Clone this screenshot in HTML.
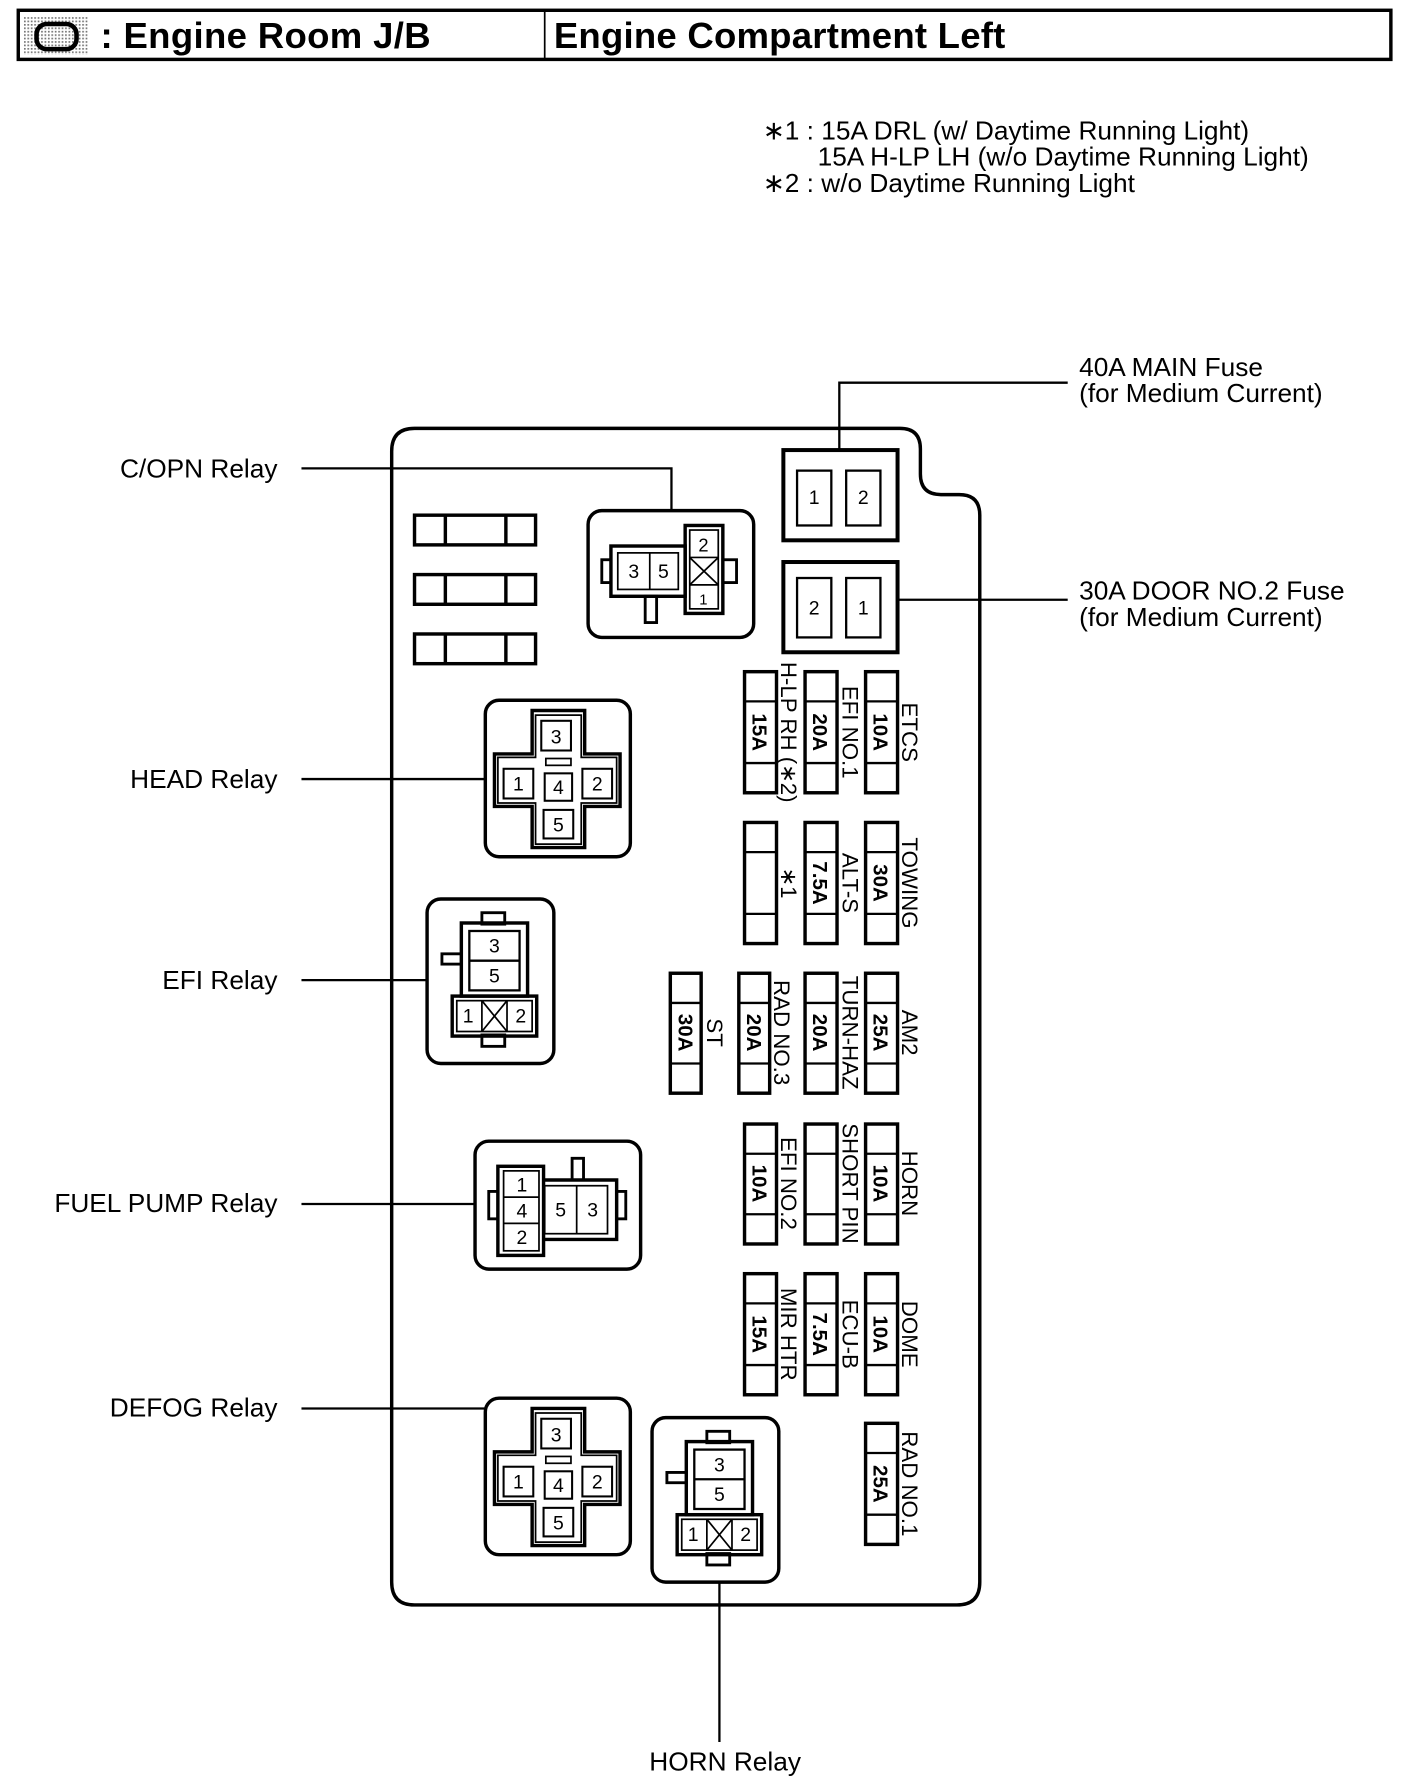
<!DOCTYPE html>
<html><head><meta charset="utf-8"><style>
html,body{margin:0;padding:0;background:#fff}
svg{display:block}
text{font-family:"Liberation Sans",sans-serif;fill:#000}
</style></head><body>
<svg width="1408" height="1790" viewBox="0 0 1233 1567" preserveAspectRatio="none" xmlns="http://www.w3.org/2000/svg">
<defs>
<pattern id="dots" width="3" height="3" patternUnits="userSpaceOnUse"><rect width="3" height="3" fill="#fff"/><rect width="1.5" height="1.5" fill="#777"/></pattern>
<g id="headrelay">
 <rect x="425" y="613" width="127" height="137" rx="12" fill="none" stroke="#000" stroke-width="3"/>
 <path d="M466 622 H512 V660 H543 V706 H512 V742 H466 V706 H433 V660 H466 Z" fill="none" stroke="#000" stroke-width="3"/>
 <path d="M469 626 H509 V663 H540 V703 H509 V739 H469 V703 H436 V663 H469 Z" fill="none" stroke="#000" stroke-width="1.5"/>
 <rect x="474" y="631" width="26" height="26" fill="none" stroke="#000" stroke-width="1.8"/>
 <rect x="441" y="673" width="26" height="26" fill="none" stroke="#000" stroke-width="1.8"/>
 <rect x="510" y="673" width="26" height="26" fill="none" stroke="#000" stroke-width="1.8"/>
 <rect x="477" y="677" width="24" height="24" fill="none" stroke="#000" stroke-width="1.8"/>
 <rect x="476" y="709" width="26" height="25" fill="none" stroke="#000" stroke-width="1.8"/>
 <rect x="478" y="664" width="22" height="6" fill="none" stroke="#000" stroke-width="1.5"/>
 <text x="487" y="651" font-size="17" text-anchor="middle">3</text>
 <text x="454" y="692" font-size="17" text-anchor="middle">1</text>
 <text x="489" y="695" font-size="17" text-anchor="middle">4</text>
 <text x="523" y="692" font-size="17" text-anchor="middle">2</text>
 <text x="489" y="728" font-size="17" text-anchor="middle">5</text>
</g>
<g id="efirelay">
 <rect x="374" y="787" width="111" height="144" rx="12" fill="none" stroke="#000" stroke-width="3"/>
 <rect x="422" y="799" width="20" height="10" fill="none" stroke="#000" stroke-width="2.5"/>
 <rect x="387" y="835" width="17" height="9" fill="none" stroke="#000" stroke-width="2.5"/>
 <rect x="422" y="906" width="20" height="10" fill="none" stroke="#000" stroke-width="2.5"/>
 <rect x="404" y="808" width="58" height="64" fill="none" stroke="#000" stroke-width="3"/>
 <rect x="411" y="815" width="44" height="52" fill="none" stroke="#000" stroke-width="2"/>
 <line x1="411" y1="841" x2="455" y2="841" stroke="#000" stroke-width="2"/>
 <rect x="396" y="872" width="74" height="35" fill="none" stroke="#000" stroke-width="3"/>
 <rect x="400" y="876" width="66" height="27" fill="none" stroke="#000" stroke-width="1.5"/>
 <line x1="422" y1="876" x2="422" y2="903" stroke="#000" stroke-width="1.5"/>
 <line x1="444" y1="876" x2="444" y2="903" stroke="#000" stroke-width="1.5"/>
 <line x1="422" y1="876" x2="444" y2="903" stroke="#000" stroke-width="1.5"/>
 <line x1="444" y1="876" x2="422" y2="903" stroke="#000" stroke-width="1.5"/>
 <text x="433" y="834" font-size="17" text-anchor="middle">3</text>
 <text x="433" y="860" font-size="17" text-anchor="middle">5</text>
 <text x="410" y="895" font-size="17" text-anchor="middle">1</text>
 <text x="456" y="895" font-size="17" text-anchor="middle">2</text>
</g>
</defs>

<rect x="16" y="9" width="1202" height="43" fill="none" stroke="#000" stroke-width="3"/>
<line x1="477" y1="9" x2="477" y2="52" stroke="#000" stroke-width="1.5"/>
<rect x="21" y="14" width="56" height="34" fill="url(#dots)"/>
<rect x="32" y="21" width="35" height="22" rx="9" fill="none" stroke="#000" stroke-width="4"/>
<text x="88" y="42" font-size="32" font-weight="bold" letter-spacing="0.3">: Engine Room J/B</text>
<text x="485" y="42" font-size="32" font-weight="bold" letter-spacing="0.2">Engine Compartment Left</text>

<text x="668" y="122" font-size="23">∗1 : 15A DRL (w/ Daytime Running Light)</text>
<text x="716" y="145" font-size="23">15A H-LP LH (w/o Daytime Running Light)</text>
<text x="668" y="168" font-size="23">∗2 : w/o Daytime Running Light</text>

<path d="M363 375 H788 Q806 375 806 393 V415 Q806 433 824 433 H840 Q858 433 858 451 V1385 Q858 1405 838 1405 H363 Q343 1405 343 1385 V395 Q343 375 363 375 Z" fill="none" stroke="#000" stroke-width="3"/>

<g fill="none" stroke="#000" stroke-width="3">
<rect x="363" y="451" width="106" height="26"/><line x1="390" y1="451" x2="390" y2="477"/><line x1="443" y1="451" x2="443" y2="477"/>
<rect x="363" y="503" width="106" height="26"/><line x1="390" y1="503" x2="390" y2="529"/><line x1="443" y1="503" x2="443" y2="529"/>
<rect x="363" y="555" width="106" height="26"/><line x1="390" y1="555" x2="390" y2="581"/><line x1="443" y1="555" x2="443" y2="581"/>
</g>

<g fill="none" stroke="#000">
<rect x="515" y="447" width="145" height="111" rx="12" stroke-width="3"/>
<rect x="535" y="478" width="65" height="44" stroke-width="3"/>
<rect x="541" y="484" width="53" height="32" stroke-width="1.5"/>
<line x1="569" y1="484" x2="569" y2="516" stroke-width="1.5"/>
<rect x="527" y="490" width="8" height="20" stroke-width="2.5"/>
<rect x="600" y="460" width="33" height="77" stroke-width="3"/>
<rect x="604" y="464" width="25" height="69" stroke-width="1.5"/>
<line x1="604" y1="488" x2="629" y2="488" stroke-width="1.5"/>
<line x1="604" y1="512" x2="629" y2="512" stroke-width="1.5"/>
<line x1="604" y1="488" x2="629" y2="512" stroke-width="1.5"/>
<line x1="629" y1="488" x2="604" y2="512" stroke-width="1.5"/>
<rect x="633" y="490" width="12" height="20" stroke-width="2.5"/>
<rect x="565" y="522" width="10" height="23" stroke-width="2.5"/>
</g>
<text x="555" y="506" font-size="17" text-anchor="middle">3</text>
<text x="581" y="506" font-size="17" text-anchor="middle">5</text>
<text x="616" y="483" font-size="16" text-anchor="middle">2</text>
<text x="616" y="529" font-size="13" text-anchor="middle">1</text>

<g fill="none" stroke="#000">
<rect x="686" y="394" width="100" height="79" stroke-width="3.5"/>
<rect x="698" y="412" width="30" height="48" stroke-width="2"/>
<rect x="741" y="412" width="30" height="48" stroke-width="2"/>
<rect x="686" y="492" width="100" height="79" stroke-width="3.5"/>
<rect x="698" y="506" width="30" height="52" stroke-width="2"/>
<rect x="741" y="506" width="30" height="52" stroke-width="2"/>
<polyline points="735,394 735,335 935,335" stroke-width="2"/>
<line x1="786" y1="525" x2="935" y2="525" stroke-width="2"/>
</g>
<text x="713" y="441" font-size="17" text-anchor="middle">1</text>
<text x="756" y="441" font-size="17" text-anchor="middle">2</text>
<text x="713" y="538" font-size="17" text-anchor="middle">2</text>
<text x="756" y="538" font-size="17" text-anchor="middle">1</text>
<g font-size="23">
<text x="945" y="329">40A MAIN Fuse</text>
<text x="945" y="352">(for Medium Current)</text>
<text x="945" y="525">30A DOOR NO.2 Fuse</text>
<text x="945" y="548">(for Medium Current)</text>
</g>

<g fill="none" stroke="#000" stroke-width="3">
<rect x="652" y="588" width="28" height="106"/><line x1="652" y1="614" x2="680" y2="614" stroke-width="2"/><line x1="652" y1="668" x2="680" y2="668" stroke-width="2"/>
<rect x="705" y="588" width="28" height="106"/><line x1="705" y1="614" x2="733" y2="614" stroke-width="2"/><line x1="705" y1="668" x2="733" y2="668" stroke-width="2"/>
<rect x="758" y="588" width="28" height="106"/><line x1="758" y1="614" x2="786" y2="614" stroke-width="2"/><line x1="758" y1="668" x2="786" y2="668" stroke-width="2"/>

<rect x="652" y="720" width="28" height="106"/><line x1="652" y1="746" x2="680" y2="746" stroke-width="2"/><line x1="652" y1="800" x2="680" y2="800" stroke-width="2"/>
<rect x="705" y="720" width="28" height="106"/><line x1="705" y1="746" x2="733" y2="746" stroke-width="2"/><line x1="705" y1="800" x2="733" y2="800" stroke-width="2"/>
<rect x="758" y="720" width="28" height="106"/><line x1="758" y1="746" x2="786" y2="746" stroke-width="2"/><line x1="758" y1="800" x2="786" y2="800" stroke-width="2"/>

<rect x="587" y="852" width="27" height="105"/><line x1="587" y1="878" x2="614" y2="878" stroke-width="2"/><line x1="587" y1="931" x2="614" y2="931" stroke-width="2"/>
<rect x="647" y="852" width="27" height="105"/><line x1="647" y1="878" x2="674" y2="878" stroke-width="2"/><line x1="647" y1="931" x2="674" y2="931" stroke-width="2"/>
<rect x="705" y="852" width="28" height="105"/><line x1="705" y1="878" x2="733" y2="878" stroke-width="2"/><line x1="705" y1="931" x2="733" y2="931" stroke-width="2"/>
<rect x="758" y="852" width="28" height="105"/><line x1="758" y1="878" x2="786" y2="878" stroke-width="2"/><line x1="758" y1="931" x2="786" y2="931" stroke-width="2"/>

<rect x="652" y="984" width="28" height="105"/><line x1="652" y1="1010" x2="680" y2="1010" stroke-width="2"/><line x1="652" y1="1063" x2="680" y2="1063" stroke-width="2"/>
<rect x="705" y="984" width="28" height="105"/><line x1="705" y1="1010" x2="733" y2="1010" stroke-width="2"/><line x1="705" y1="1063" x2="733" y2="1063" stroke-width="2"/>
<rect x="758" y="984" width="28" height="105"/><line x1="758" y1="1010" x2="786" y2="1010" stroke-width="2"/><line x1="758" y1="1063" x2="786" y2="1063" stroke-width="2"/>

<rect x="652" y="1115" width="28" height="106"/><line x1="652" y1="1141" x2="680" y2="1141" stroke-width="2"/><line x1="652" y1="1195" x2="680" y2="1195" stroke-width="2"/>
<rect x="705" y="1115" width="28" height="106"/><line x1="705" y1="1141" x2="733" y2="1141" stroke-width="2"/><line x1="705" y1="1195" x2="733" y2="1195" stroke-width="2"/>
<rect x="758" y="1115" width="28" height="106"/><line x1="758" y1="1141" x2="786" y2="1141" stroke-width="2"/><line x1="758" y1="1195" x2="786" y2="1195" stroke-width="2"/>

<rect x="758" y="1246" width="28" height="106"/><line x1="758" y1="1272" x2="786" y2="1272" stroke-width="2"/><line x1="758" y1="1326" x2="786" y2="1326" stroke-width="2"/>
</g>

<g font-size="18" font-weight="bold" text-anchor="middle">
<text transform="translate(659,641) rotate(90)">15A</text>
<text transform="translate(712,641) rotate(90)">20A</text>
<text transform="translate(765,641) rotate(90)">10A</text>
<text transform="translate(712,773) rotate(90)">7.5A</text>
<text transform="translate(765,773) rotate(90)">30A</text>
<text transform="translate(594,904) rotate(90)">30A</text>
<text transform="translate(654,904) rotate(90)">20A</text>
<text transform="translate(712,904) rotate(90)">20A</text>
<text transform="translate(765,904) rotate(90)">25A</text>
<text transform="translate(659,1036) rotate(90)">10A</text>
<text transform="translate(765,1036) rotate(90)">10A</text>
<text transform="translate(659,1168) rotate(90)">15A</text>
<text transform="translate(712,1168) rotate(90)">7.5A</text>
<text transform="translate(765,1168) rotate(90)">10A</text>
<text transform="translate(765,1299) rotate(90)">25A</text>
</g>
<g font-size="19.5" text-anchor="middle">
<text transform="translate(684,641) rotate(90)">H-LP RH (∗2)</text>
<text transform="translate(738,641) rotate(90)">EFI NO.1</text>
<text transform="translate(790,641) rotate(90)">ETCS</text>
<text transform="translate(684,773) rotate(90)">∗1</text>
<text transform="translate(738,773) rotate(90)">ALT-S</text>
<text transform="translate(790,773) rotate(90)">TOWING</text>
<text transform="translate(619,904) rotate(90)">ST</text>
<text transform="translate(678,904) rotate(90)">RAD NO.3</text>
<text transform="translate(738,904) rotate(90)">TURN-HAZ</text>
<text transform="translate(790,904) rotate(90)">AM2</text>
<text transform="translate(684,1036) rotate(90)">EFI NO.2</text>
<text transform="translate(738,1036) rotate(90)">SHORT PIN</text>
<text transform="translate(790,1036) rotate(90)">HORN</text>
<text transform="translate(684,1168) rotate(90)">MIR HTR</text>
<text transform="translate(738,1168) rotate(90)">ECU-B</text>
<text transform="translate(790,1168) rotate(90)">DOME</text>
<text transform="translate(790,1299) rotate(90)">RAD NO.1</text>
</g>

<use href="#headrelay"/>
<use href="#headrelay" transform="translate(0,611)"/>
<use href="#efirelay"/>
<use href="#efirelay" transform="translate(197,454)"/>

<g fill="none" stroke="#000">
<rect x="416" y="999" width="145" height="112" rx="12" stroke-width="3"/>
<rect x="436" y="1021" width="40" height="78" stroke-width="3"/>
<rect x="441" y="1025" width="31" height="70" stroke-width="1.5"/>
<line x1="441" y1="1048" x2="472" y2="1048" stroke-width="1.5"/>
<line x1="441" y1="1071" x2="472" y2="1071" stroke-width="1.5"/>
<polyline points="476,1033 540,1033 540,1085 476,1085" stroke-width="3"/>
<rect x="477" y="1038" width="55" height="42" stroke-width="1.5"/>
<line x1="505" y1="1038" x2="505" y2="1080" stroke-width="1.5"/>
<rect x="428" y="1043" width="8" height="24" stroke-width="2.5"/>
<rect x="540" y="1043" width="8" height="24" stroke-width="2.5"/>
<rect x="501" y="1014" width="10" height="19" stroke-width="2.5"/>
</g>
<text x="457" y="1043" font-size="17" text-anchor="middle">1</text>
<text x="457" y="1066" font-size="17" text-anchor="middle">4</text>
<text x="457" y="1089" font-size="17" text-anchor="middle">2</text>
<text x="491" y="1065" font-size="17" text-anchor="middle">5</text>
<text x="519" y="1065" font-size="17" text-anchor="middle">3</text>

<g stroke="#000" stroke-width="2" fill="none">
<polyline points="264,410 588,410 588,447"/>
<line x1="264" y1="682" x2="425" y2="682"/>
<line x1="264" y1="858" x2="374" y2="858"/>
<line x1="264" y1="1054" x2="416" y2="1054"/>
<line x1="264" y1="1233" x2="425" y2="1233"/>
<line x1="630" y1="1385" x2="630" y2="1525"/>
</g>
<g font-size="23" text-anchor="end">
<text x="243" y="418">C/OPN Relay</text>
<text x="243" y="690">HEAD Relay</text>
<text x="243" y="866">EFI Relay</text>
<text x="243" y="1061">FUEL PUMP Relay</text>
<text x="243" y="1240">DEFOG Relay</text>
</g>
<text x="635" y="1550" font-size="23" text-anchor="middle">HORN Relay</text>
</svg>
</body></html>
